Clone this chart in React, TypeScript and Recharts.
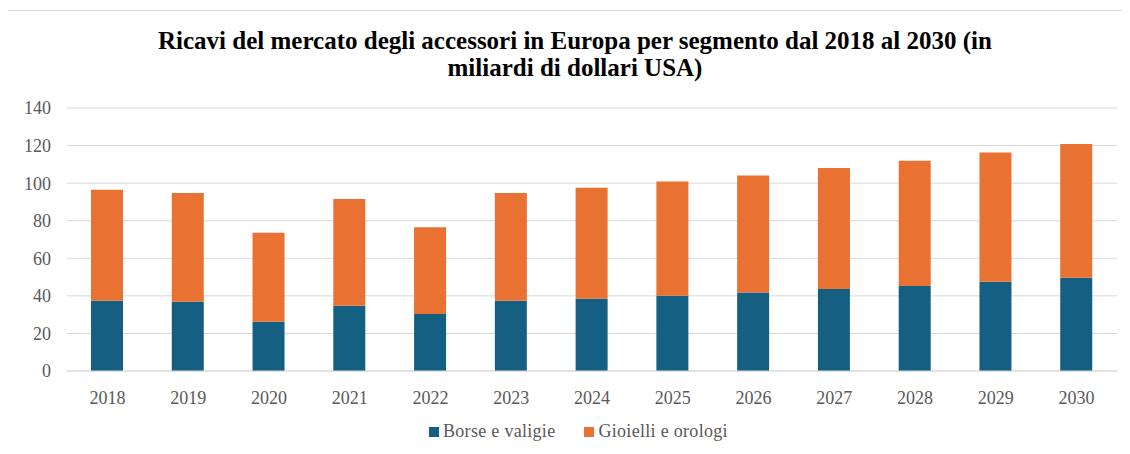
import { BarChart, Bar, XAxis, YAxis, CartesianGrid } from 'recharts';

// Anni e valori (miliardi di dollari USA)
const years = ['2018', '2019', '2020', '2021', '2022', '2023', '2024', '2025', '2026', '2027', '2028', '2029', '2030'];
const borseValigie = [37.4, 36.9, 26.2, 34.8, 30.3, 37.4, 38.5, 40.1, 41.8, 43.6, 45.2, 47.5, 49.7];
const gioielliOrologi = [59.1, 57.8, 47.4, 56.7, 46.2, 57.3, 59.1, 60.8, 62.3, 64.4, 66.7, 68.8, 71.1];
const yTicks = [0, 20, 40, 60, 80, 100, 120, 140];

const BLUE = '#156082';
const ORANGE = '#e97132';
const FONT = "'Liberation Serif', serif";

const chartData = years.map((year, i) => ({
  year,
  borse: borseValigie[i],
  gioielli: gioielliOrologi[i]
}));

export default function App() {
  return (
    <div style={{ position: 'relative', width: 1130, height: 454, margin: -8, background: '#fff', overflow: 'hidden', fontFamily: FONT }}>
      {/* cornice del grafico */}
      <div style={{ position: 'absolute', left: 4, top: 10, width: 1140, height: 460, border: '1px solid #d9d9d9' }} />

      <div style={{ position: 'absolute', top: 27, left: 0, width: 1150, textAlign: 'center', fontWeight: 'bold', fontSize: 25, lineHeight: '27px', color: '#000' }}>
        Ricavi del mercato degli accessori in Europa per segmento dal 2018 al 2030 (in
        <br />
        miliardi di dollari USA)
      </div>

      <div style={{ position: 'absolute', left: 0, top: 0 }}>
        <BarChart width={1130} height={454} data={chartData} margin={{ top: 108, right: 13, bottom: 53, left: 7 }} barSize={32} style={{ fontFamily: FONT }}>
          <CartesianGrid vertical={false} stroke="#d9d9d9" />
          <XAxis
            dataKey="year"
            axisLine={{ stroke: '#d9d9d9' }}
            tickLine={false}
            tickMargin={14}
            height={30}
            tick={{ fill: '#595959', fontSize: 18, fontFamily: FONT }}
          />
          <YAxis
            width={60}
            domain={[0, 140]}
            ticks={yTicks}
            axisLine={false}
            tickLine={false}
            tickMargin={10}
            tick={{ fill: '#595959', fontSize: 18, fontFamily: FONT }}
          />
          <Bar dataKey="borse" name="Borse e valigie" stackId="a" fill={BLUE} isAnimationActive={false} />
          <Bar dataKey="gioielli" name="Gioielli e orologi" stackId="a" fill={ORANGE} isAnimationActive={false} />
        </BarChart>
      </div>

      {/* legenda */}
      <div style={{ position: 'absolute', top: 421, left: 429, display: 'flex', alignItems: 'center', fontSize: 18, letterSpacing: 0.3, color: '#595959' }}>
        <span style={{ width: 10, height: 10, background: BLUE, display: 'inline-block', marginRight: 4 }} />
        <span>Borse e valigie</span>
        <span style={{ width: 10, height: 10, background: ORANGE, display: 'inline-block', marginLeft: 29, marginRight: 4 }} />
        <span>Gioielli e orologi</span>
      </div>
    </div>
  );
}
